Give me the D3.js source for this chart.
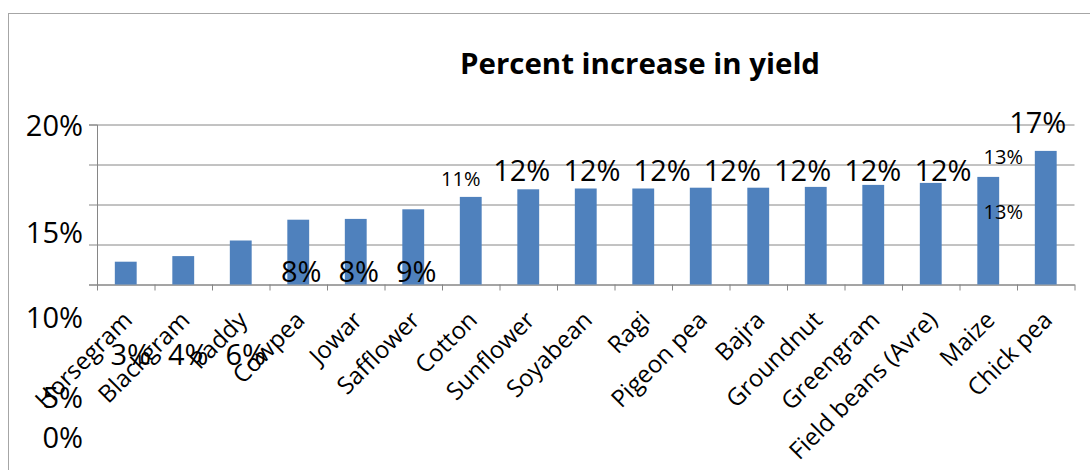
<!DOCTYPE html>
<html>
<head>
<meta charset="utf-8">
<script src="https://cdn.jsdelivr.net/npm/d3@7/dist/d3.min.js"></script>
<style>
    body { margin: 0; background: #fff; }
    text { font-family: 'Open Sans', sans-serif; fill: #000; }
</style>
</head>
<body>
<svg id="chart" width="1090" height="470"></svg>
<script>
// data
const crops = ['Horsegram', 'Blackgram', 'Paddy', 'Cowpea', 'Jowar', 'Safflower', 'Cotton', 'Sunflower',
    'Soyabean', 'Ragi', 'Pigeon pea', 'Bajra', 'Groundnut', 'Greengram', 'Field beans (Avre)', 'Maize', 'Chick pea']
const increase = [2.85, 3.55, 5.5, 8.1, 8.2, 9.4, 10.95, 11.9, 12.0, 12.0, 12.1, 12.1, 12.2, 12.45, 12.7, 13.45, 16.7]
const valueLabels = ['3%', '4%', '6%', '8%', '8%', '9%', '11%', '12%', '12%', '12%', '12%', '12%', '12%', '12%',
    '13%', '13%', '17%']
const yTicks = [0, 5, 10, 15, 20]
const yTickLabels = ['0%', '5%', '10%', '15%', '20%']
const title = 'Percent increase in yield'

const svg = d3.select('#chart')
const grey = '#868686'

// outer frame
svg.append('rect').attr('x', 8.5).attr('y', 13.5).attr('width', 1200).attr('height', 600)
    .attr('fill', 'none').attr('stroke', '#a6a6a6')

// title
svg.append('text').attr('x', 460).attr('y', 73.5).attr('font-weight', 700).attr('font-size', 28)
    .attr('textLength', 360).attr('lengthAdjust', 'spacingAndGlyphs').text(title)

// scales
const plotLeft = 97, plotRight = 1074.5, plotBase = 284.5, plotTop = 124.5
const x = d3.scaleBand().domain(crops).range([plotLeft, plotRight]).paddingInner(0.62).paddingOuter(0.31)
const y = d3.scaleLinear().domain([0, 20]).range([plotBase, plotTop])
const cx = d => x(d) + x.bandwidth() / 2

// gridlines
const grid = svg.append('g').attr('transform', 'translate(' + plotLeft + ',0)')
    .call(d3.axisLeft(y).tickValues(yTicks).tickSizeInner(-(plotRight - plotLeft)).tickSizeOuter(0).tickFormat(''))
grid.select('.domain').remove()
grid.selectAll('line').attr('stroke', grey)
// y axis with outward ticks
const yAxis = svg.append('g').attr('transform', 'translate(' + plotLeft + ',0)')
    .call(d3.axisLeft(y).tickValues(yTicks).tickSize(8).tickFormat(''))
yAxis.selectAll('line, path').attr('stroke', grey)

// x axis ticks between categories
const xEdges = d3.scaleLinear().domain([0, crops.length]).range([plotLeft, plotRight])
const xTicks = svg.append('g').attr('transform', 'translate(0,' + plotBase + ')')
    .call(d3.axisBottom(xEdges).tickValues(d3.range(crops.length + 1)).tickSize(6).tickSizeOuter(0).tickFormat(''))
xTicks.selectAll('line, path').attr('stroke', grey)

// category labels
const xAxis = svg.append('g').attr('transform', 'translate(0,' + plotBase + ')')
    .call(d3.axisBottom(x).tickSize(0))
xAxis.select('.domain').remove()
xAxis.selectAll('text')
    .attr('font-size', 24)
    .attr('text-anchor', 'end')
    .attr('dy', 0)
    .attr('y', 0)
    .attr('transform', 'translate(8,37) rotate(-45)')

// bars
svg.append('g').selectAll('rect').data(crops).enter().append('rect')
    .attr('x', d => x(d))
    .attr('y', (d, i) => y(increase[i]))
    .attr('width', x.bandwidth())
    .attr('height', (d, i) => plotBase - y(increase[i]))
    .attr('fill', '#4f81bd')

// y tick labels (they sit off their gridlines in the original)
const yLabel = d3.scaleLinear().domain(yTicks).range([437, 397, 317, 232, 125])
const yLab = svg.append('g').attr('transform', 'translate(86,0)')
    .call(d3.axisLeft(yLabel).tickValues(yTicks).tickSize(0).tickPadding(3).tickFormat((d, i) => yTickLabels[i]))
yLab.select('.domain').remove()
yLab.selectAll('text').attr('font-size', 29).attr('dy', '0.36em')

// value labels, placed as in the original
function labelPlace(i) {
    if (i < 3) return { x: cx(crops[i]) + 5, y: plotBase + 70, size: 29 }
    if (i < 6) return { x: cx(crops[i]) + 3, y: plotBase - 13, size: 29 }
    if (i === 6) return { x: cx(crops[i]) - 10, y: y(13.2), size: 20 }
    if (i < 14) return { x: cx(crops[7]) - 6.5 + (i - 7) * 70.2, y: y(14.2), size: 29 }
    if (i === 14) return { x: cx(crops[15]) + 15, y: y(16), size: 20 }
    if (i === 15) return { x: cx(crops[15]) + 15, y: y(9.1), size: 20 }
    return { x: cx(crops[i]) - 8, y: y(20.3), size: 29 }
}
svg.append('g').selectAll('text').data(valueLabels).enter().append('text')
    .attr('x', (d, i) => labelPlace(i).x)
    .attr('y', (d, i) => labelPlace(i).y)
    .attr('font-size', (d, i) => labelPlace(i).size)
    .attr('text-anchor', 'middle')
    .attr('dy', '0.36em')
    .text(d => d)
</script>
</body>
</html>
